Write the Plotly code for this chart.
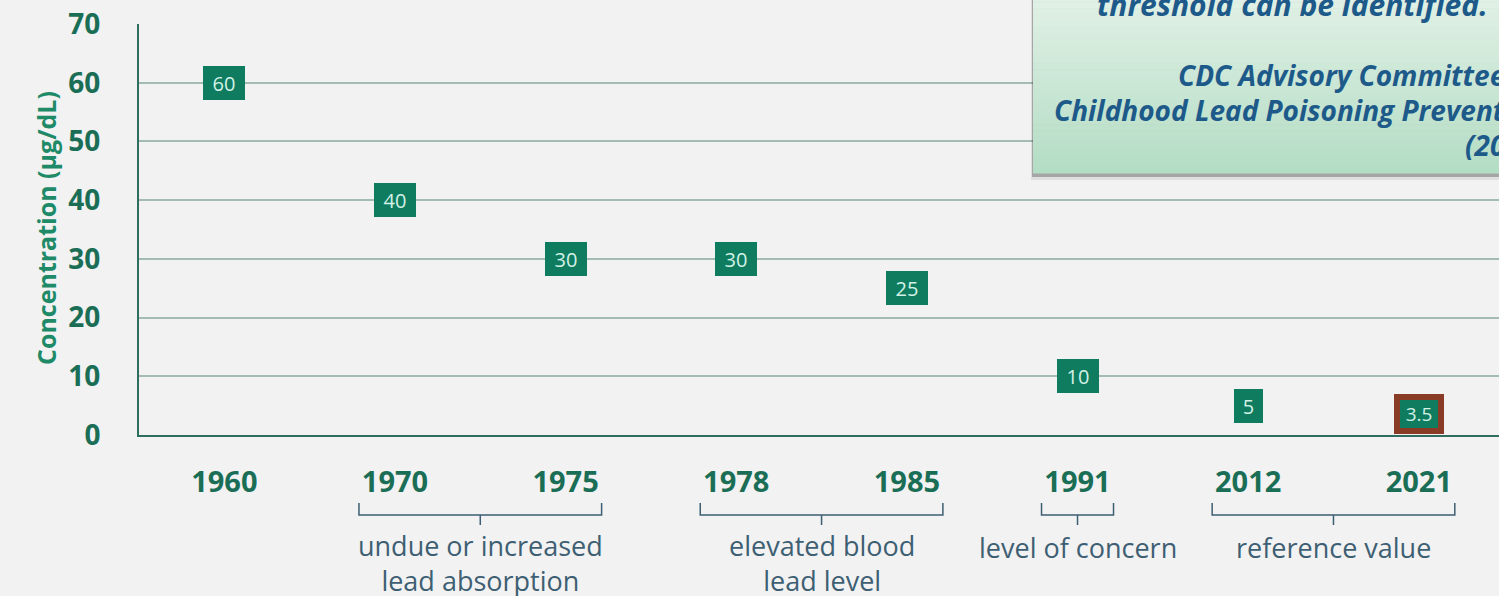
import plotly.graph_objects as go

# ---- data ----
years = ["1960", "1970", "1975", "1978", "1985", "1991", "2012", "2021"]
values = [60, 40, 30, 30, 25, 10, 5, 3.5]
value_labels = ["60", "40", "30", "30", "25", "10", "5", "3.5"]
highlight = [False, False, False, False, False, False, False, True]
y_ticks = [0, 10, 20, 30, 40, 50, 60, 70]
group_start = [1, 3, 5, 6]
group_end = [2, 4, 5, 7]
group_labels = ["undue or increased<br>lead absorption", "elevated blood<br>lead level",
                "level of concern", "reference value"]
quote_line = "threshold can be identified."
attribution = ["CDC Advisory Committee on", "Childhood Lead Poisoning Prevention", "(2012)"]

# ---- layout geometry ----
W, H = 1499, 596
ML, MR, MT, MB = 139, 0, 24, 161
PW, PH = W - ML - MR, H - MT - MB


def px(xp):
    return (xp - ML) / PW


def py(yp):
    return (H - MB - yp) / PH


BG = "#f2f2f2"
TICK_COL = "#1b6e56"
BOX_COL = "#0f7c60"
BOX_TXT = "#d3f1e6"
SLATE = "#3e5f73"
BLUE = "#1d5a8a"
FONT = "Open Sans"

x_idx = list(range(len(years)))

fig = go.Figure()
fig.add_trace(go.Scatter(x=x_idx, y=values, mode="markers",
                         marker=dict(opacity=0), hoverinfo="skip", showlegend=False))

annotations = []
# value boxes
for i, (v, lab, hl) in enumerate(zip(values, value_labels, highlight)):
    if hl:
        annotations.append(dict(x=i, y=v, xref="x", yref="y", text=lab, showarrow=False,
                                font=dict(family=FONT, size=19, color=BOX_TXT),
                                bgcolor=BOX_COL, bordercolor="#8a3b26", borderwidth=6,
                                borderpad=0, width=38, height=28))
    else:
        annotations.append(dict(x=i, y=v, xref="x", yref="y", text=lab, showarrow=False,
                                font=dict(family=FONT, size=20, color=BOX_TXT),
                                bgcolor=BOX_COL, borderpad=0, borderwidth=0,
                                width=29 if len(lab) == 1 else 42, height=34))

# group brackets and labels
shapes = []
hw = 36 / (PW / 7.97)
yb_top, yb_mid, yb_bot = py(503), py(515), py(525)
for s, e, lab in zip(group_start, group_end, group_labels):
    x0, x1 = s - hw, e + hw
    xc = (s + e) / 2
    shapes.append(dict(type="path", xref="x", yref="paper",
                       path=f"M {x0},{yb_top} L {x0},{yb_mid} L {x1},{yb_mid} L {x1},{yb_top} "
                            f"M {xc},{yb_mid} L {xc},{yb_bot}",
                       line=dict(color=SLATE, width=1.5)))
    two = "<br>" in lab
    annotations.append(dict(x=xc, y=py(563 if two else 547), xref="x", yref="paper",
                            text=lab, showarrow=False, yanchor="middle",
                            font=dict(family=FONT, size=27, color=SLATE)))

# text box with gradient + shadow
bx0, bx1, by0, by1 = 1033, 1600, 173, -10
shapes.append(dict(type="rect", xref="paper", yref="paper", layer="above",
                   x0=px(bx0 - 2), x1=px(bx1), y0=py(by0 + 7), y1=py(by1),
                   fillcolor="rgba(0,0,0,0.08)", line=dict(width=0)))
shapes.append(dict(type="rect", xref="paper", yref="paper", layer="above",
                   x0=px(bx0 - 1), x1=px(bx1), y0=py(by0 + 4), y1=py(by1),
                   fillcolor="rgba(60,60,60,0.35)", line=dict(width=0)))
c_top = (226, 241, 231)
c_bot = (180, 221, 197)
n_bands = 30
for k in range(n_bands):
    t = k / (n_bands - 1)
    c = tuple(int(round(a + (b - a) * t)) for a, b in zip(c_top, c_bot))
    ya = by1 + (by0 - by1) * k / n_bands
    yb = by1 + (by0 - by1) * (k + 1) / n_bands
    shapes.append(dict(type="rect", xref="paper", yref="paper", layer="above",
                       x0=px(bx0), x1=px(bx1), y0=py(yb + 0.5), y1=py(ya),
                       fillcolor=f"rgb{c}", line=dict(width=0)))

annotations.append(dict(x=px(1490), y=py(4), xref="paper", yref="paper", text=f"<b><i>{quote_line}</i></b>",
                        showarrow=False, xanchor="right", yanchor="middle",
                        font=dict(family=FONT, size=30, color=BLUE)))
for line, yy in zip(attribution, [75, 110, 145]):
    annotations.append(dict(x=px(1548), y=py(yy), xref="paper", yref="paper", text=f"<b><i>{line}</i></b>",
                            showarrow=False, xanchor="right", yanchor="middle",
                            font=dict(family=FONT, size=28, color=BLUE)))

# y axis title
annotations.append(dict(x=px(27), y=py(228), xref="paper", yref="paper",
                        text="<b>Concentration (µg/dL)</b>", textangle=-90, showarrow=False,
                        font=dict(family=FONT, size=25, color="#1f8a68")))

fig.update_layout(
    width=W, height=H,
    margin=dict(l=ML, r=MR, t=MT, b=MB, autoexpand=False),
    paper_bgcolor=BG, plot_bgcolor=BG,
    showlegend=False,
    shapes=shapes,
    annotations=annotations,
    xaxis=dict(range=[-0.5, 7.47], tickvals=x_idx, ticktext=[f"<b>{y}</b>" for y in years],
               showgrid=False, zeroline=False, showline=True, linecolor="#2f6e5e", linewidth=2,
               ticks="", ticklabelstandoff=20,
               tickfont=dict(family=FONT, size=29, color=TICK_COL)),
    yaxis=dict(range=[0, 70], tickvals=y_ticks, ticktext=[f"<b>{t}</b>" for t in y_ticks],
               showgrid=True, gridcolor="#a3bcb3", gridwidth=1.5, zeroline=False,
               showline=True, linecolor="#2f6e5e", linewidth=2, ticks="",
               ticklabelstandoff=31,
               tickfont=dict(family=FONT, size=28, color=TICK_COL)),
)

fig.write_html("out.html", config={"displayModeBar": False},
               post_script="document.body.style.margin='0';document.body.style.overflow='hidden';")
